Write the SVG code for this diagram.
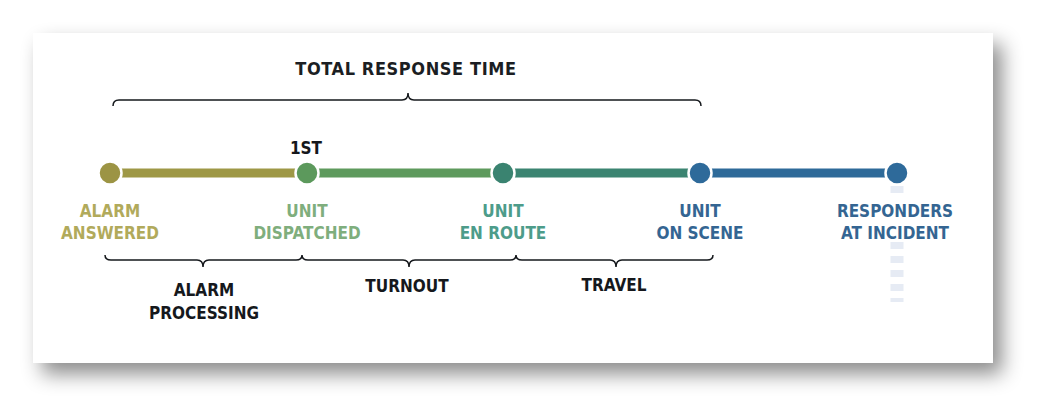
<svg xmlns="http://www.w3.org/2000/svg" width="1044" height="408" viewBox="0 0 1044 408">
  <defs>
    <filter id="shadow" x="-10%" y="-20%" width="125%" height="150%">
      <feDropShadow dx="9" dy="11" stdDeviation="10" flood-color="#000" flood-opacity="0.45"/>
    </filter>
    <style>
      text { font-family: "DejaVu Sans Condensed", "DejaVu Sans", sans-serif; font-stretch: condensed; text-anchor: middle; }
      .lbl { font-size: 17px; font-weight: bold; }
      .blk { font-size: 17px; font-weight: bold; fill: #15181c; }
      .title { font-size: 18px; font-weight: bold; fill: #1b1e23; letter-spacing: 0.6px; }
      .brace { fill: none; stroke: #15181c; stroke-width: 1.5; }
      .seg { stroke-width: 9; }
      .node { stroke: #fff; stroke-width: 2.5; }
      .dash { stroke: #e6ebf4; stroke-width: 13; stroke-dasharray: 7 7; }
    </style>
  </defs>

  <rect x="0" y="0" width="1044" height="408" fill="#fff"/>
  <rect x="33" y="33" width="960" height="330" fill="#fff" filter="url(#shadow)"/>

  <g id="title">
    <text class="title" x="406" y="75">TOTAL RESPONSE TIME</text>
  </g>

  <g id="connectors">
    <line class="seg" x1="110" y1="173" x2="307" y2="173" stroke="#9e9846"/>
    <line class="seg" x1="307" y1="173" x2="503" y2="173" stroke="#5e9a5d"/>
    <line class="seg" x1="503" y1="173" x2="700" y2="173" stroke="#3b8471"/>
    <line class="seg" x1="700" y1="173" x2="897" y2="173" stroke="#2e6a99"/>
    <line class="dash" x1="897" y1="186" x2="897" y2="198"/>
    <line class="dash" x1="897" y1="242" x2="897" y2="302"/>
    <path class="brace" d="M113,106 Q113,100 119,100 L402,100 Q408,100 408,93 Q408,100 414,100 L695,100 Q701,100 701,106"/>
    <path class="brace" d="M105,255 Q105,260 111,260 L197,260 Q203,260 203,267 Q203,260 209,260 L296,260 Q302,260 302,255 Q302,260 308,260 L403,260 Q409,260 409,267 Q409,260 415,260 L510,260 Q516,260 516,255 Q516,260 522,260 L610,260 Q616,260 616,267 Q616,260 622,260 L707,260 Q713,260 713,255"/>
  </g>

  <g id="node-alarm-answered">
    <circle class="node" cx="110" cy="173" r="11.5" fill="#9c9444"/>
    <text class="lbl" fill="#b1aa5b" x="110" y="217">ALARM</text>
    <text class="lbl" fill="#b1aa5b" x="110" y="239">ANSWERED</text>
  </g>
  <g id="node-unit-dispatched">
    <circle class="node" cx="307" cy="173" r="11.5" fill="#5c995c"/>
    <text class="blk" x="306" y="154">1ST</text>
    <text class="lbl" fill="#7fae7d" x="307" y="217">UNIT</text>
    <text class="lbl" fill="#7fae7d" x="307" y="239">DISPATCHED</text>
  </g>
  <g id="node-unit-en-route">
    <circle class="node" cx="503" cy="173" r="11.5" fill="#3a8370"/>
    <text class="lbl" fill="#4d9c8a" x="503" y="217">UNIT</text>
    <text class="lbl" fill="#4d9c8a" x="503" y="239">EN ROUTE</text>
  </g>
  <g id="node-unit-on-scene">
    <circle class="node" cx="700" cy="173" r="11.5" fill="#2e6a9a"/>
    <text class="lbl" fill="#346592" x="700" y="217">UNIT</text>
    <text class="lbl" fill="#346592" x="700" y="239">ON SCENE</text>
  </g>
  <g id="node-responders">
    <circle class="node" cx="897" cy="173" r="11.5" fill="#2e6a9a"/>
    <text class="lbl" fill="#346592" x="895" y="217">RESPONDERS</text>
    <text class="lbl" fill="#346592" x="895" y="239">AT INCIDENT</text>
  </g>

  <g id="label-alarm-processing">
    <text class="blk" x="204" y="296">ALARM</text>
    <text class="blk" x="204" y="319">PROCESSING</text>
  </g>
  <g id="label-turnout">
    <text class="blk" x="407" y="292">TURNOUT</text>
  </g>
  <g id="label-travel">
    <text class="blk" x="614" y="291">TRAVEL</text>
  </g>
</svg>
